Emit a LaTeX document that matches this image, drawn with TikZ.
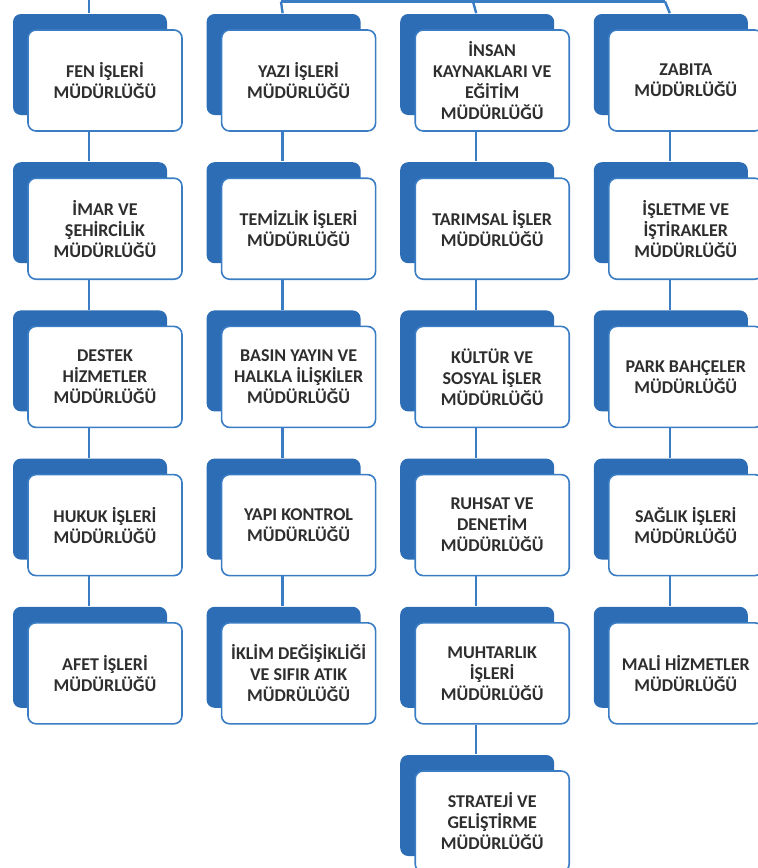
\documentclass[tikz,border=0pt]{standalone}
\usepackage{fontspec}
\setmainfont{Carlito}
\usepackage{tikz}
\usetikzlibrary{shapes,arrows}
\usetikzlibrary{positioning,shadows}
\definecolor{tabblue}{HTML}{2C6DB5}
\definecolor{rimblue}{HTML}{3A7DC4}
\definecolor{inkgray}{HTML}{2E2E2E}
\tikzset{dept node/.style={rectangle,rounded corners=8pt,fill=white,draw=rimblue,line width=1.6pt,
    minimum width=154pt,minimum height=101pt,text width=150pt,align=flush center,inner sep=0pt,
    text=inkgray,font=\fontsize{18}{21}\selectfont\bfseries,
    general shadow={fill=tabblue,shadow xshift=-15pt,shadow yshift=16pt}},  }

\begin{document}
\begin{tikzpicture}[x=1pt,y=-1pt,node distance=45.6pt and 38pt,
        conn line/.style={draw=rimblue,line width=2.4pt}]
   \fill[white] (0,0) rectangle (758,868);
   \useasboundingbox (0,0) rectangle (758,868);

   \node[dept node] (11) at (105,80.5) {FEN İŞLERİ\\MÜDÜRLÜĞÜ};
    \node[dept node] (12) [below=of 11] {İMAR VE\\ŞEHİRCİLİK\\MÜDÜRLÜĞÜ};
    \node[dept node] (13) [below=of 12] {DESTEK\\HİZMETLER\\MÜDÜRLÜĞÜ};
    \node[dept node] (14) [below=of 13] {HUKUK İŞLERİ\\MÜDÜRLÜĞÜ};
    \node[dept node] (15) [below=of 14] {AFET İŞLERİ\\MÜDÜRLÜĞÜ};

    \node[dept node] (21) [right=of 11] {YAZI İŞLERİ\\MÜDÜRLÜĞÜ};
    \node[dept node] (22) [below=of 21] {TEMİZLİK İŞLERİ\\MÜDÜRLÜĞÜ};
    \node[dept node] (23) [below=of 22] {BASIN YAYIN VE\\HALKLA İLİŞKİLER\\MÜDÜRLÜĞÜ};
    \node[dept node] (24) [below=of 23] {YAPI KONTROL\\MÜDÜRLÜĞÜ};
    \node[dept node] (25) [below=of 24] {İKLİM DEĞİŞİKLİĞİ\\VE SIFIR ATIK\\MÜDRÜLÜĞÜ};

    \node[dept node] (31) [right=of 21] {İNSAN\\KAYNAKLARI VE\\EĞİTİM\\MÜDÜRLÜĞÜ};
    \node[dept node] (32) [below=of 31] {TARIMSAL İŞLER\\MÜDÜRLÜĞÜ};
    \node[dept node] (33) [below=of 32] {KÜLTÜR VE\\SOSYAL İŞLER\\MÜDÜRLÜĞÜ};
    \node[dept node] (34) [below=of 33] {RUHSAT VE\\DENETİM\\MÜDÜRLÜĞÜ};
    \node[dept node] (35) [below=of 34] {MUHTARLIK\\İŞLERİ\\MÜDÜRLÜĞÜ};
    \node[dept node] (36) [below=of 35] {STRATEJİ VE\\GELİŞTİRME\\MÜDÜRLÜĞÜ};

    \node[dept node] (41) [right=of 31] {ZABITA\\MÜDÜRLÜĞÜ};
    \node[dept node] (42) [below=of 41] {İŞLETME VE\\İŞTİRAKLER\\MÜDÜRLÜĞÜ};
    \node[dept node] (43) [below=of 42] {PARK BAHÇELER\\MÜDÜRLÜĞÜ};
    \node[dept node] (44) [below=of 43] {SAĞLIK İŞLERİ\\MÜDÜRLÜĞÜ};
    \node[dept node] (45) [below=of 44] {MALİ HİZMETLER\\MÜDÜRLÜĞÜ};

    \coordinate (top1) at (89,0);
    \coordinate (top2) at (281,1.5);
    \coordinate (top3) at (473,1.5);
    \coordinate (top4) at (665,1.5);

    \path[conn line]
    (top2) edge (top4)
    (top1) edge ([xshift=-16pt,yshift=16pt]11.north)
    (top2) edge ([xshift=-16pt,yshift=16pt]21.north)
    (top3) edge ([xshift=-16pt,yshift=16pt]31.north)
    (top4) edge ([xshift=-16pt,yshift=16pt]41.north)
    ([xshift=-16pt]11.south) edge ([xshift=-16pt,yshift=16pt]12.north)
    ([xshift=-16pt]12.south) edge ([xshift=-16pt,yshift=16pt]13.north)
    ([xshift=-16pt]13.south) edge ([xshift=-16pt,yshift=16pt]14.north)
    ([xshift=-16pt]14.south) edge ([xshift=-16pt,yshift=16pt]15.north)
    ([xshift=-16pt]21.south) edge ([xshift=-16pt,yshift=16pt]22.north)
    ([xshift=-16pt]22.south) edge ([xshift=-16pt,yshift=16pt]23.north)
    ([xshift=-16pt]23.south) edge ([xshift=-16pt,yshift=16pt]24.north)
    ([xshift=-16pt]24.south) edge ([xshift=-16pt,yshift=16pt]25.north)
    ([xshift=-16pt]31.south) edge ([xshift=-16pt,yshift=16pt]32.north)
    ([xshift=-16pt]32.south) edge ([xshift=-16pt,yshift=16pt]33.north)
    ([xshift=-16pt]33.south) edge ([xshift=-16pt,yshift=16pt]34.north)
    ([xshift=-16pt]34.south) edge ([xshift=-16pt,yshift=16pt]35.north)
    ([xshift=-16pt]35.south) edge ([xshift=-16pt,yshift=16pt]36.north)
    ([xshift=-16pt]41.south) edge ([xshift=-16pt,yshift=16pt]42.north)
    ([xshift=-16pt]42.south) edge ([xshift=-16pt,yshift=16pt]43.north)
    ([xshift=-16pt]43.south) edge ([xshift=-16pt,yshift=16pt]44.north)
    ([xshift=-16pt]44.south) edge ([xshift=-16pt,yshift=16pt]45.north);
\end{tikzpicture}
\end{document}
